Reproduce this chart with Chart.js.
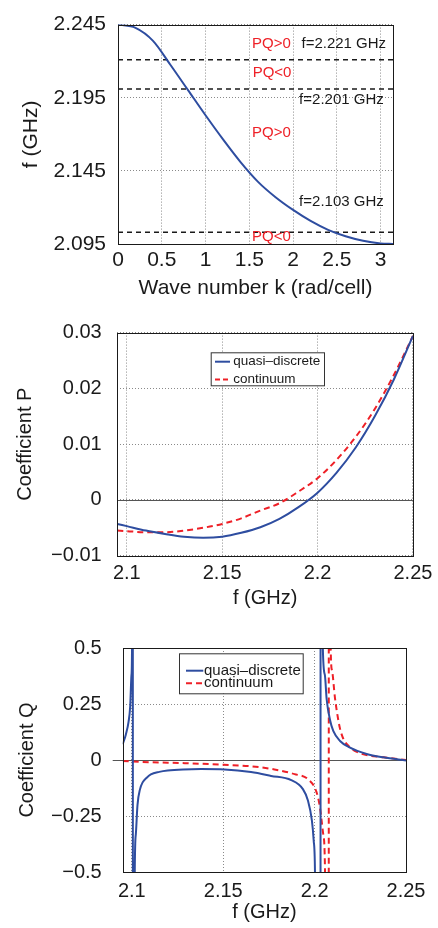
<!DOCTYPE html>
<html><head><meta charset="utf-8">
<script src="https://cdn.jsdelivr.net/npm/chart.js@4.4.1/dist/chart.umd.min.js"></script>
<style>
html,body{margin:0;padding:0;background:#fff;width:438px;height:928px;overflow:hidden}
.c{position:absolute;left:0;width:438px}
canvas{display:block}
</style></head><body>
<div class="c" style="top:0;height:305px"><canvas id="c1" width="438" height="305"></canvas></div>
<div class="c" style="top:305px;height:310px"><canvas id="c2" width="438" height="310"></canvas></div>
<div class="c" style="top:615px;height:313px"><canvas id="c3" width="438" height="313"></canvas></div>
<script>
// ---------- Data: chart 1 (dispersion) ----------
const kValues    = [0, 0.2, 0.4, 0.6, 0.8, 1.0, 1.2, 1.4, 1.6, 1.8, 2.0, 2.2, 2.4, 2.6, 2.8, 3.0, 3.1416];
const fDispersion= [2.245, 2.2428, 2.2339, 2.2174, 2.2002, 2.183, 2.1665, 2.151, 2.1375, 2.127, 2.1183, 2.1108, 2.1047, 2.1003, 2.0972, 2.0954, 2.095];
const fThresholds = [2.221, 2.201, 2.103];
const kTicks = [0, 0.5, 1, 1.5, 2, 2.5, 3];
const kTickLabels = ['0','0.5','1','1.5','2','2.5','3'];
const f1Ticks = [2.095, 2.145, 2.195, 2.245];
const f1TickLabels = ['2.095','2.145','2.195','2.245'];

// ---------- Data: chart 2 (coefficient P) ----------
const fP = [2.095, 2.1, 2.11, 2.12, 2.13, 2.14, 2.15, 2.16, 2.17, 2.18, 2.19, 2.2, 2.21, 2.22, 2.23, 2.24, 2.25];
const pQuasi = [-0.0043, -0.0047, -0.0055, -0.0061, -0.0066, -0.0068, -0.0066, -0.0059, -0.0049, -0.0034, -0.0013, 0.0013, 0.0049, 0.0094, 0.015, 0.0216, 0.0294];
const pCont  = [-0.0055, -0.0056, -0.0058, -0.0058, -0.0055, -0.005, -0.0043, -0.0033, -0.0019, -0.0006, 0.0015, 0.0039, 0.0072, 0.0113, 0.0163, 0.0224, 0.0294];
const pTicks = [-0.01, 0, 0.01, 0.02, 0.03];
const pTickLabels = ['\u22120.01','0','0.01','0.02','0.03'];

// ---------- Data: chart 3 (coefficient Q) ----------
const fQuasi = [2.095, 2.0967, 2.0982, 2.0991, 2.0998, 2.1001, 2.1003, 2.1005, 2.1006, 2.1011, 2.1016, 2.1022, 2.1031, 2.1045, 2.1059, 2.108, 2.1104, 2.115, 2.1196, 2.128, 2.1378, 2.1507, 2.1652, 2.1762, 2.1872, 2.1936, 2.1963, 2.1985, 2.1995, 2.2002, 2.2008, 2.2032, 2.2033, 2.2038, 2.2045, 2.2056, 2.2066, 2.2084, 2.2102, 2.2139, 2.2194, 2.2285, 2.2376, 2.25];
const qQuasi = [0.07, 0.113, 0.17, 0.24, 0.38, 0.5, 2, 9, -9, -2, -0.5, -0.33, -0.2, -0.13, -0.1, -0.08, -0.064, -0.053, -0.047, -0.042, -0.04, -0.042, -0.054, -0.071, -0.09, -0.13, -0.18, -0.27, -0.36, -0.5, -1.2, -9, 9, 2, 0.5, 0.38, 0.27, 0.18, 0.13, 0.085, 0.055, 0.027, 0.012, -0.002];
const fCont = [2.095, 2.11, 2.129, 2.15, 2.165, 2.178, 2.189, 2.1963, 2.2009, 2.2029, 2.2047, 2.2057, 2.2065, 2.2077, 2.2078, 2.2083, 2.2088, 2.2095, 2.2111, 2.2125, 2.2139, 2.2157, 2.2194, 2.2249, 2.2376, 2.25];
const qCont = [-0.005, -0.01, -0.014, -0.021, -0.028, -0.042, -0.063, -0.085, -0.14, -0.21, -0.33, -0.5, -2, -9, 9, 2, 0.5, 0.4, 0.28, 0.2, 0.14, 0.095, 0.056, 0.03, 0.012, 0];
const qTicks = [-0.5, -0.25, 0, 0.25, 0.5];
const qTickLabels = ['\u22120.5','\u22120.25','0','0.25','0.5'];

const fTicks = [2.1, 2.15, 2.2, 2.25];
const fTickLabels = ['2.1','2.15','2.2','2.25'];
const seriesNames = ['quasi\u2013discrete', 'continuum'];

// ---------- Styling ----------
const FONT = '"Liberation Sans", Arial, Helvetica, sans-serif';
const BLUE = '#2e4da0';
const RED = '#ee2027';
const INK = '#1a1a1a';

const pts = (xs, ys) => xs.map((x, i) => ({x, y: ys[i]}));

const decor = {
  id: 'decor',
  beforeDatasetsDraw(chart, args, o) {
    if (o.zeroLine) {
      const {ctx, chartArea: a, scales: {y}} = chart;
      const py = Math.round(y.getPixelForValue(0)) + 0.5;
      ctx.save(); ctx.strokeStyle = '#555'; ctx.lineWidth = 1; ctx.setLineDash([]);
      ctx.beginPath(); ctx.moveTo(a.left - (o.zeroExtend || 0), py); ctx.lineTo(a.right, py); ctx.stroke();
      ctx.restore();
    }
  },
  afterDatasetsDraw(chart, args, o) {
    const {ctx, chartArea: a, scales: {x, y}} = chart;
    ctx.save();
    ctx.strokeStyle = INK; ctx.lineWidth = 1; ctx.setLineDash([]);
    ctx.strokeRect(Math.round(a.left) + 0.5, Math.round(a.top) + 0.5, Math.round(a.right - a.left), Math.round(a.bottom - a.top));
    (o.texts || []).forEach(t => {
      ctx.font = t.size + 'px ' + FONT;
      ctx.fillStyle = t.color; ctx.textAlign = t.align; ctx.textBaseline = 'middle';
      ctx.fillText(t.text, x.getPixelForValue(t.x), y.getPixelForValue(t.y));
    });
    if (o.legend) {
      const L = o.legend;
      ctx.fillStyle = '#fff'; ctx.fillRect(L.x, L.y, L.w, L.h);
      ctx.strokeStyle = '#333'; ctx.lineWidth = 1; ctx.strokeRect(L.x + 0.5, L.y + 0.5, L.w, L.h);
      L.items.forEach((it, i) => {
        const ry = L.rows[i];
        ctx.strokeStyle = it.color; ctx.lineWidth = 2; ctx.setLineDash(it.dash || []);
        ctx.beginPath(); ctx.moveTo(L.lx0, ry); ctx.lineTo(L.lx1, ry); ctx.stroke();
        ctx.setLineDash([]);
        ctx.font = L.size + 'px ' + FONT; ctx.fillStyle = INK; ctx.textAlign = 'left'; ctx.textBaseline = 'middle';
        ctx.fillText(it.text, L.tx, ry);
      });
    }
    ctx.restore();
  }
};

function mkScales(o) {
  const tickFont = {family: FONT, size: o.tickSize};
  return {
    x: {
      type: 'linear', min: o.xmin, max: o.xmax,
      afterBuildTicks: s => { s.ticks = o.xticks.map(v => ({value: v})); },
      afterFit: s => { s.height = o.xh; },
      ticks: {autoSkip: false, maxRotation: 0, minRotation: 0, padding: o.xpad, font: tickFont, color: INK,
              callback: (v, i) => o.xlabels[i]},
      grid: {color: '#8a8a8a', lineWidth: 1, drawTicks: false, tickLength: 0},
      border: {display: false, dash: [1, 2]},
      title: {display: true, text: o.xtitle, color: INK, font: {family: FONT, size: o.titleSize}, padding: {top: 0, bottom: o.xtpad}}
    },
    y: {
      type: 'linear', min: o.ymin, max: o.ymax,
      afterBuildTicks: s => { s.ticks = o.yticks.map(v => ({value: v})); },
      afterFit: s => { s.width = o.yw; },
      ticks: {autoSkip: false, padding: o.ypad, font: tickFont, color: INK,
              callback: (v, i) => o.ylabels[i]},
      grid: {color: '#8a8a8a', lineWidth: 1, drawTicks: false, tickLength: 0},
      border: {display: false, dash: [1, 2]},
      title: {display: true, text: o.ytitle, color: INK, font: {family: FONT, size: o.titleSize}, padding: {top: o.ytpad, bottom: 0}}
    }
  };
}

const base = (padding, scales, decorOpts, datasets) => ({
  type: 'line',
  data: {datasets},
  options: {
    responsive: false, animation: false, devicePixelRatio: 1,
    layout: {padding},
    scales,
    elements: {point: {radius: 0, hoverRadius: 0}},
    plugins: {legend: {display: false}, tooltip: {enabled: false}, decor: decorOpts}
  },
  plugins: [decor]
});

// ---------- Chart 1 ----------
new Chart(document.getElementById('c1'), base(
  {top: 14, right: 45, bottom: 0, left: 0},
  mkScales({xmin: 0, xmax: Math.PI, xticks: kTicks, xlabels: kTickLabels, xh: 61, xpad: 4, xtitle: 'Wave number k (rad/cell)', xtpad: 4,
            ymin: 2.095, ymax: 2.245, yticks: f1Ticks, ylabels: f1TickLabels, yw: 118, ypad: 12, ytitle: 'f (GHz)', ytpad: 19, titleSize: 21, tickSize: 21}),
  {texts: [
    {text: 'PQ>0', x: 1.753, y: 2.232, color: RED, align: 'center', size: 15},
    {text: 'f=2.221 GHz', x: 2.096, y: 2.232, color: INK, align: 'left', size: 15},
    {text: 'PQ<0', x: 1.76, y: 2.2117, color: RED, align: 'center', size: 15},
    {text: 'f=2.201 GHz', x: 2.069, y: 2.1935, color: INK, align: 'left', size: 15},
    {text: 'PQ>0', x: 1.753, y: 2.1707, color: RED, align: 'center', size: 15},
    {text: 'f=2.103 GHz', x: 2.069, y: 2.1237, color: INK, align: 'left', size: 15},
    {text: 'PQ<0', x: 1.753, y: 2.0996, color: RED, align: 'center', size: 15}
  ]},
  [
    {data: pts(kValues, fDispersion), borderColor: BLUE, borderWidth: 2, cubicInterpolationMode: 'monotone'},
    ...fThresholds.map(t => ({data: [{x: 0, y: t}, {x: Math.PI, y: t}], borderColor: INK, borderWidth: 1.5, borderDash: [5, 4]}))
  ]
));

// ---------- Chart 2 ----------
new Chart(document.getElementById('c2'), base(
  {top: 24, right: 25, bottom: 0, left: 0},
  mkScales({xmin: 2.095, xmax: 2.25, xticks: fTicks, xlabels: fTickLabels, xh: 59.3, xpad: 5.6, xtitle: 'f (GHz)', xtpad: 4.7,
            ymin: -0.01, ymax: 0.03, yticks: pTicks, ylabels: pTickLabels, yw: 117.3, ypad: 15.6, ytitle: 'Coefficient P', ytpad: 13, titleSize: 20, tickSize: 20}),
  {zeroLine: true, zeroExtend: 0,
   legend: {x: 210.7, y: 47.3, w: 113.3, h: 33, rows: [56.7, 74.5], lx0: 215, lx1: 230, tx: 233.3, size: 13.5,
            items: [{text: seriesNames[0], color: BLUE}, {text: seriesNames[1], color: RED, dash: [5, 3]}]}},
  [
    {data: pts(fP, pQuasi), borderColor: BLUE, borderWidth: 2, cubicInterpolationMode: 'monotone'},
    {data: pts(fP, pCont), borderColor: RED, borderWidth: 2, borderDash: [6, 4], cubicInterpolationMode: 'monotone'}
  ]
));

// ---------- Chart 3 ----------
new Chart(document.getElementById('c3'), base(
  {top: 20.7, right: 32, bottom: 0, left: 0},
  mkScales({xmin: 2.095, xmax: 2.25, xticks: fTicks, xlabels: fTickLabels, xh: 56, xpad: 7.7, xtitle: 'f (GHz)', xtpad: 3.5,
            ymin: -0.5, ymax: 0.5, yticks: qTicks, ylabels: qTickLabels, yw: 122.7, ypad: 21, ytitle: 'Coefficient Q', ytpad: 15.5, titleSize: 20, tickSize: 20}),
  {zeroLine: true, zeroExtend: 10,
   legend: {x: 179, y: 38.3, w: 123.7, h: 40, rows: [55.7, 68.3], lx0: 186, lx1: 203.3, tx: 204, size: 15,
            items: [{text: seriesNames[0], color: BLUE}, {text: seriesNames[1], color: RED, dash: [6, 4]}]}},
  [
    {data: pts(fQuasi, qQuasi), borderColor: BLUE, borderWidth: 2, cubicInterpolationMode: 'monotone'},
    {data: pts(fCont, qCont), borderColor: RED, borderWidth: 2, borderDash: [6, 4], cubicInterpolationMode: 'monotone'}
  ]
));
</script>
</body></html>
